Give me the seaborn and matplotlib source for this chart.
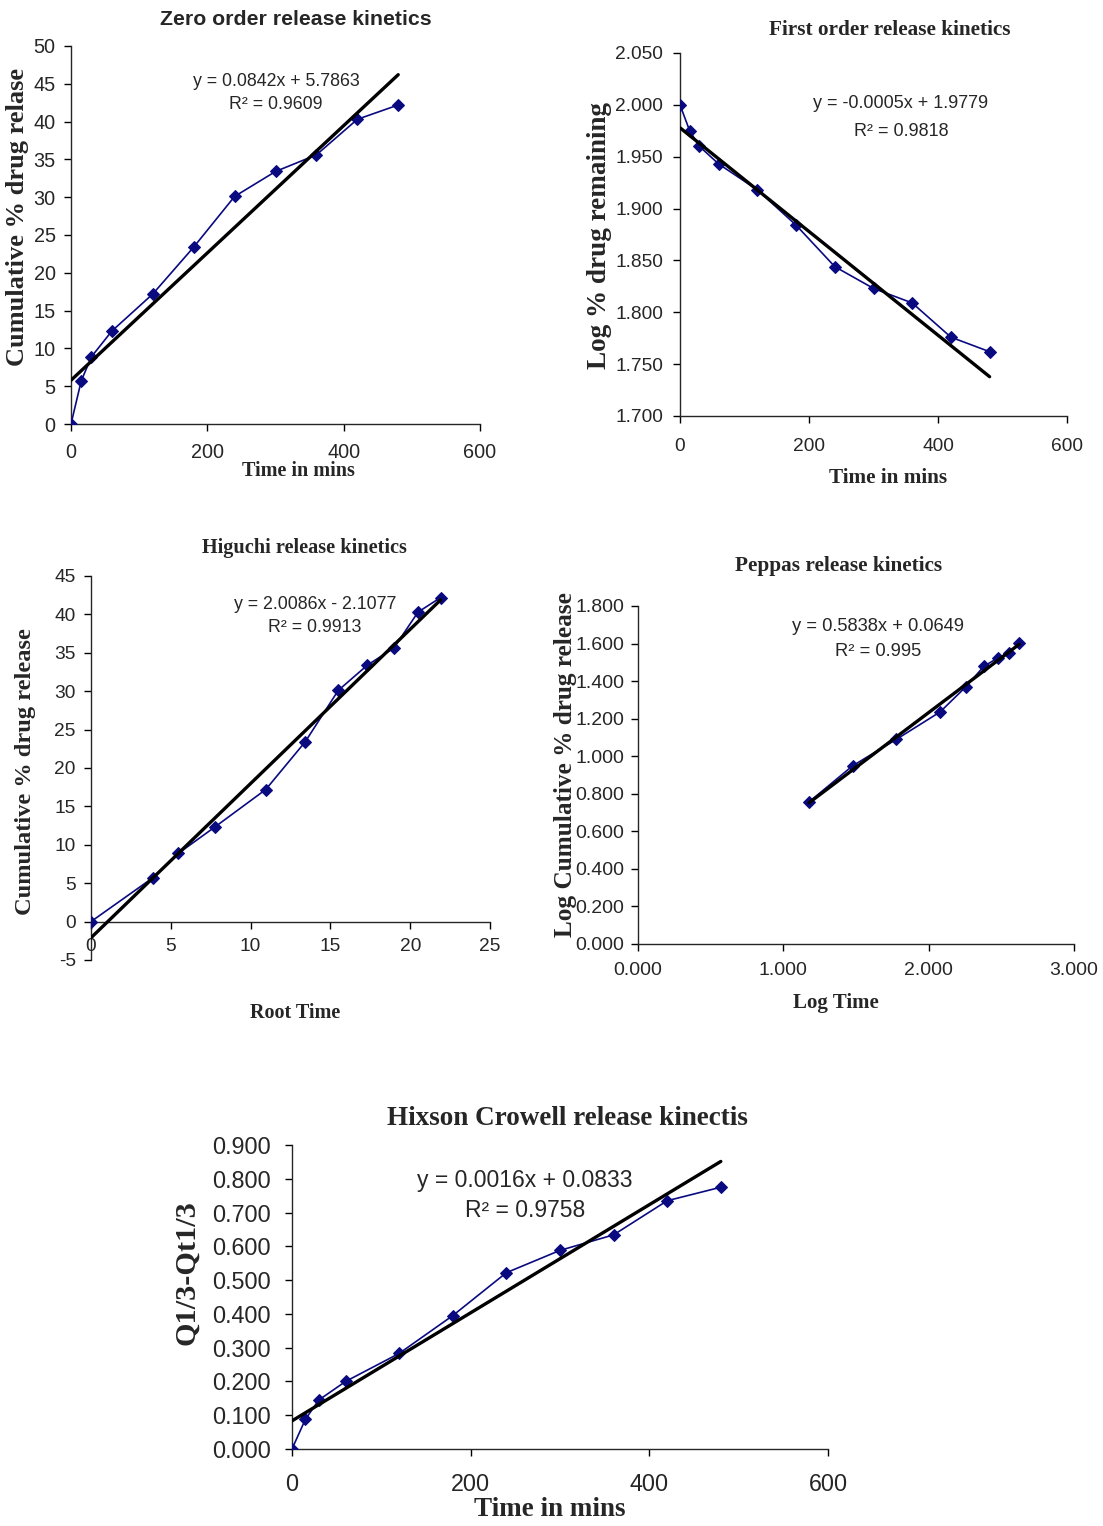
import numpy as np
import matplotlib
matplotlib.use("Agg")
import matplotlib.pyplot as plt
import seaborn as sns

# ---- data ----
time_min = [0, 15, 30, 60, 120, 180, 240, 300, 360, 420, 480]
cum_release = [0, 5.7, 8.9, 12.3, 17.2, 23.4, 30.1, 33.4, 35.6, 40.3, 42.2]
log_remaining = [2.000, 1.975, 1.960, 1.943, 1.918, 1.884, 1.844, 1.823, 1.809, 1.776, 1.762]
root_time = [0, 3.87, 5.48, 7.75, 10.95, 13.42, 15.49, 17.32, 18.97, 20.49, 21.91]
log_time = [1.176, 1.477, 1.778, 2.079, 2.255, 2.380, 2.477, 2.556, 2.623]
log_cum_release = [0.756, 0.949, 1.090, 1.236, 1.369, 1.479, 1.524, 1.551, 1.605]
hixson = [0, 0.088, 0.145, 0.200, 0.283, 0.395, 0.522, 0.588, 0.634, 0.735, 0.775]

# fitted equations (slope, intercept) as printed on the chart
fit_zero = (0.0842, 5.7863)
fit_first = (-0.0005, 1.9779)
fit_higuchi = (2.0086, -2.1077)
fit_peppas = (0.5838, 0.0649)
fit_hixson = (0.0016, 0.0833)

eq_zero = ["y = 0.0842x + 5.7863", "R² = 0.9609"]
eq_first = ["y = -0.0005x + 1.9779", "R² = 0.9818"]
eq_higuchi = ["y = 2.0086x - 2.1077", "R² = 0.9913"]
eq_peppas = ["y = 0.5838x + 0.0649", "R² = 0.995"]
eq_hixson = ["y = 0.0016x + 0.0833", "R² = 0.9758"]

sns.set_style("ticks")
SANS = ["Liberation Sans", "DejaVu Sans"]
SERIF = ["Liberation Serif", "DejaVu Serif"]
plt.rcParams["font.family"] = SANS
plt.rcParams["axes.linewidth"] = 1.0
plt.rcParams["axes.unicode_minus"] = False

W, H = 1103, 1526
fig = plt.figure(figsize=(W / 100, H / 100), dpi=100)
NAVY = "#0a0a80"


def make_ax(left, right, top, bottom):
    return fig.add_axes([left / W, (H - bottom) / H, (right - left) / W, (bottom - top) / H])


def panel(ax, x, y, fit, fit_x, eq, eq_pos, eq_size, tick_size,
          title, title_pos, title_size, title_family,
          xlabel, xlab_pos, xlab_size, ylabel, ylab_pos, ylab_size,
          xpad, ypad):
    sns.lineplot(x=x, y=y, ax=ax, color=NAVY, lw=1.2, marker="D", markersize=6.5,
                 markeredgecolor=NAVY, markerfacecolor=NAVY, zorder=3)
    fx = np.array(fit_x)
    sns.lineplot(x=fx, y=fit[0] * fx + fit[1], ax=ax, color="black", lw=2.4, zorder=4)
    sns.despine(ax=ax)
    ax.tick_params(direction="out", length=5, width=1, color="black")
    ax.tick_params(axis="x", pad=xpad, labelsize=tick_size)
    ax.tick_params(axis="y", pad=ypad, labelsize=tick_size)
    ax.text(eq_pos[0], eq_pos[1], eq[0], transform=ax.transAxes, ha="center", va="center",
            fontsize=eq_size)
    ax.text(eq_pos[0], eq_pos[2], eq[1], transform=ax.transAxes, ha="center", va="center",
            fontsize=eq_size)
    ax.set_title(title, x=title_pos[0], y=title_pos[1], va="center", pad=0,
                 fontsize=title_size, family=title_family, fontweight="bold")
    ax.set_xlabel(xlabel, fontsize=xlab_size, family=SERIF, fontweight="bold", va="center")
    ax.xaxis.set_label_coords(*xlab_pos)
    ax.set_ylabel(ylabel, fontsize=ylab_size, family=SERIF, fontweight="bold", va="center")
    ax.yaxis.set_label_coords(*ylab_pos)


fmt3 = matplotlib.ticker.FormatStrFormatter("%.3f")

# Zero order
ax1 = make_ax(71, 480, 46, 424)
ax1.set_xlim(0, 600)
ax1.set_ylim(0, 50)
ax1.set_xticks([0, 200, 400, 600])
ax1.set_yticks(range(0, 51, 5))
panel(ax1, time_min, cum_release, fit_zero, [time_min[0], time_min[-1]], eq_zero,
      (0.501, 0.907, 0.844), 12.8, 14.3,
      "Zero order release kinetics", (0.55, 1.069), 15.3, SANS,
      "Time in mins", (0.557, -0.124), 14.5, "Cumulative % drug relase", (-0.13, 0.548), 19,
      9, 6)

# First order
ax2 = make_ax(680, 1067, 53, 416)
ax2.set_xlim(0, 600)
ax2.set_ylim(1.7, 2.05)
ax2.set_xticks([0, 200, 400, 600])
ax2.set_yticks(np.arange(1.7, 2.0501, 0.05))
ax2.yaxis.set_major_formatter(fmt3)
panel(ax2, time_min, log_remaining, fit_first, [time_min[0], time_min[-1]], eq_first,
      (0.571, 0.86, 0.785), 13, 13.8,
      "First order release kinetics", (0.543, 1.063), 15.3, SERIF,
      "Time in mins", (0.537, -0.171), 15.3, "Log % drug remaining", (-0.207, 0.496), 19.5,
      11, 7)

# Higuchi
ax3 = make_ax(91, 490, 576, 960)
ax3.set_xlim(0, 25)
ax3.set_ylim(-5, 45)
ax3.set_xticks(range(0, 26, 5))
ax3.set_yticks(range(-5, 46, 5))
panel(ax3, root_time, cum_release, fit_higuchi, [root_time[0], root_time[-1]], eq_higuchi,
      (0.561, 0.927, 0.865), 12.8, 13.8,
      "Higuchi release kinetics", (0.534, 1.073), 14.6, SERIF,
      "Root Time", (0.511, -0.138), 14.5, "Cumulative % drug release", (-0.163, 0.492), 17.6,
      7, 6)
ax3.spines["bottom"].set_position(("data", 0))

# Peppas
ax4 = make_ax(638, 1074, 606, 944)
ax4.set_xlim(0, 3)
ax4.set_ylim(0, 1.8)
ax4.set_xticks([0, 1, 2, 3])
ax4.set_yticks(np.arange(0, 1.8001, 0.2))
ax4.xaxis.set_major_formatter(fmt3)
ax4.yaxis.set_major_formatter(fmt3)
panel(ax4, log_time, log_cum_release, fit_peppas, [log_time[0], log_time[-1]], eq_peppas,
      (0.55, 0.938, 0.864), 13.2, 14,
      "Peppas release kinetics", (0.459, 1.118), 15.3, SERIF,
      "Log Time", (0.454, -0.175), 15, "Log Cumulative % drug release", (-0.167, 0.53), 18.2,
      8, 5)

# Hixson Crowell
ax5 = make_ax(292, 828, 1145, 1449)
ax5.set_xlim(0, 600)
ax5.set_ylim(0, 0.9)
ax5.set_xticks([0, 200, 400, 600])
ax5.set_yticks(np.arange(0, 0.9001, 0.1))
ax5.yaxis.set_major_formatter(fmt3)
panel(ax5, time_min, hixson, fit_hixson, [time_min[0], time_min[-1]], eq_hixson,
      (0.435, 0.882, 0.786), 16.5, 16.8,
      "Hixson Crowell release kinectis", (0.513, 1.086), 19.5, SERIF,
      "Time in mins", (0.481, -0.2), 19.5, "Q1/3-Qt1/3", (-0.196, 0.58), 21.8,
      12, 10)

fig.savefig("out.png", dpi=100)
